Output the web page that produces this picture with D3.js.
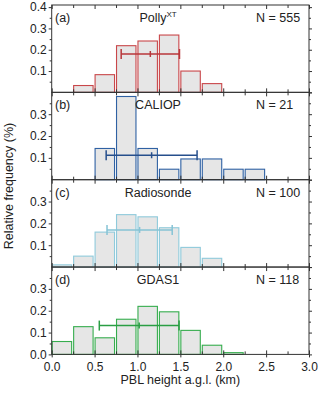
<!DOCTYPE html>
<html>
<head>
<meta charset="utf-8">
<script src="https://cdn.jsdelivr.net/npm/d3@7"></script>
<style>
  body { margin: 0; background: #fff; }
  text { font-family: "Liberation Sans", Arial, sans-serif; fill: #222; }
</style>
</head>
<body>
<script>
// bin start edges (km), bin width 0.25
var binStarts = [0, 0.25, 0.5, 0.75, 1.0, 1.25, 1.5, 1.75, 2.0, 2.25];
var binWidth = 0.25;

// relative frequency per bin
var pollyFreq = [0, 0.032, 0.083, 0.219, 0.241, 0.269, 0.100, 0.041, 0, 0];
var caliopFreq = [0, 0, 0.143, 0.381, 0.143, 0.048, 0.095, 0.095, 0.048, 0.048];
var radiosondeFreq = [0.01, 0.05, 0.16, 0.24, 0.23, 0.18, 0.09, 0.04, 0, 0];
var gdasFreq = [0.059, 0.127, 0.076, 0.161, 0.220, 0.195, 0.110, 0.042, 0.008, 0];

// mean +- std of PBL height, and the height the bar is drawn at
var pblMean = [1.15, 1.165, 1.025, 1.02];
var pblStd = [0.34, 0.53, 0.38, 0.465];
var errLevel = [0.18, 0.112, 0.17, 0.132];

var panelLetters = ["(a)", "(b)", "(c)", "(d)"];
var panelNames = ["Polly", "CALIOP", "Radiosonde", "GDAS1"];
var panelN = [555, 21, 100, 118];
var yLabels = [[0.1, 0.2, 0.3, 0.4], [0.1, 0.2, 0.3], [0.1, 0.2, 0.3], [0.0, 0.1, 0.2, 0.3]];
var yMax = [0.41, 0.4, 0.4, 0.4];
var xTickLabels = [0, 0.5, 1.0, 1.5, 2.0, 2.5, 3.0];

var series = [pollyFreq, caliopFreq, radiosondeFreq, gdasFreq];
var colors = ["#c9474a", "#2f61a3", "#8fcadb", "#36ad4e"];
var errColors = ["#b8363a", "#264f8c", "#86c3d5", "#2a9e44"];

var w = 320, h = 393;
var left = 51.7, right = 309, top0 = 5, panelH = 87.35;

var svg = d3.select("body").append("svg")
    .attr("width", w)
    .attr("height", h);

var x = d3.scaleLinear().domain([0, 3]).range([left, right]);

var majorX = d3.range(0, 3.01, 0.5);
var minorX = d3.range(0.25, 3, 0.5);

series.forEach(function(freq, i) {
    var top = top0 + i * panelH;
    var y = d3.scaleLinear().domain([0, yMax[i]]).range([top + panelH, top]);
    var g = svg.append("g");

    // bars
    var bars = binStarts.map(function(b, j) { return {x0: b, v: freq[j]}; })
        .filter(function(d) { return d.v > 0; });
    g.selectAll("rect.bar")
        .data(bars)
        .enter()
        .append("rect")
        .attr("class", "bar")
        .attr("x", function(d) { return x(d.x0) + 0.5; })
        .attr("y", function(d) { return y(d.v); })
        .attr("width", function(d) { return x(d.x0 + binWidth) - x(d.x0) - 2; })
        .attr("height", function(d) { return y(0) - y(d.v); })
        .attr("fill", "#e6e6e6")
        .attr("stroke", colors[i])
        .attr("stroke-width", 1.1);

    // error bar
    var ey = y(errLevel[i]);
    var x1 = x(pblMean[i] - pblStd[i]), x2 = x(pblMean[i] + pblStd[i]), xm = x(pblMean[i]);
    var eg = g.append("g").attr("stroke", errColors[i]).attr("stroke-width", 1.5);
    eg.append("line").attr("x1", x1).attr("x2", x2).attr("y1", ey).attr("y2", ey);
    eg.append("line").attr("x1", x1).attr("x2", x1).attr("y1", ey - 5).attr("y2", ey + 5);
    eg.append("line").attr("x1", x2).attr("x2", x2).attr("y1", ey - 5).attr("y2", ey + 5);
    eg.append("line").attr("x1", xm).attr("x2", xm).attr("y1", ey - 3).attr("y2", ey + 3);

    // x ticks, inward on top and bottom
    g.append("g").attr("transform", "translate(0," + y(0) + ")")
        .call(d3.axisBottom(x).tickValues(majorX).tickSize(-4).tickFormat(""));
    g.append("g").attr("transform", "translate(0," + y(0) + ")")
        .call(d3.axisBottom(x).tickValues(minorX).tickSize(-3).tickFormat(""));
    g.append("g").attr("transform", "translate(0," + top + ")")
        .call(d3.axisTop(x).tickValues(majorX).tickSize(-4).tickFormat(""));
    g.append("g").attr("transform", "translate(0," + top + ")")
        .call(d3.axisTop(x).tickValues(minorX).tickSize(-3).tickFormat(""));

    // y ticks, outward both sides
    var minorY = [0.05, 0.15, 0.25, 0.35];
    g.append("g").attr("transform", "translate(" + left + ",0)")
        .call(d3.axisLeft(y).tickValues(yLabels[i]).tickSize(3).tickPadding(2)
            .tickFormat(d3.format(".1f")));
    g.append("g").attr("transform", "translate(" + left + ",0)")
        .call(d3.axisLeft(y).tickValues(minorY).tickSize(2).tickFormat(""));
    g.append("g").attr("transform", "translate(" + right + ",0)")
        .call(d3.axisRight(y).tickValues([0, 0.1, 0.2, 0.3, 0.4]).tickSize(3).tickFormat(""));
    g.append("g").attr("transform", "translate(" + right + ",0)")
        .call(d3.axisRight(y).tickValues(minorY).tickSize(2).tickFormat(""));

    // frame
    g.append("rect")
        .attr("x", left).attr("y", top)
        .attr("width", right - left).attr("height", panelH)
        .attr("fill", "none").attr("stroke", "#333").attr("stroke-width", 1);

    // panel texts
    g.append("text").attr("x", 55).attr("y", top + 17).style("font-size", "12.5px")
        .text(panelLetters[i]);
    var t = g.append("text").attr("x", x(1.24)).attr("y", top + 17)
        .attr("text-anchor", "middle").style("font-size", "12.5px")
        .text(panelNames[i]);
    if (i === 0) {
        t.append("tspan").attr("dy", -5).style("font-size", "8px").text("XT");
    }
    g.append("text").attr("x", 256).attr("y", top + 17).style("font-size", "12.5px")
        .text("N = " + panelN[i]);

    if (i === 3) {
        g.append("g").attr("transform", "translate(0," + y(0) + ")")
            .call(d3.axisBottom(x).tickValues(xTickLabels).tickSize(3).tickPadding(5)
                .tickFormat(d3.format(".1f")));
    }
});

svg.selectAll(".domain").remove();
svg.selectAll(".tick line").attr("stroke", "#333");
svg.selectAll(".tick text").style("font-size", "12px")
    .style("font-family", "'Liberation Sans', Arial, sans-serif").attr("fill", "#222");

svg.append("text")
    .attr("x", (left + right) / 2)
    .attr("y", 384)
    .attr("text-anchor", "middle")
    .style("font-size", "12.5px")
    .text("PBL height a.g.l. (km)");

svg.append("text")
    .attr("transform", "translate(12.5," + 186 + ") rotate(-90)")
    .attr("text-anchor", "middle")
    .style("font-size", "12.5px")
    .text("Relative frequency (%)");
</script>
</body>
</html>
